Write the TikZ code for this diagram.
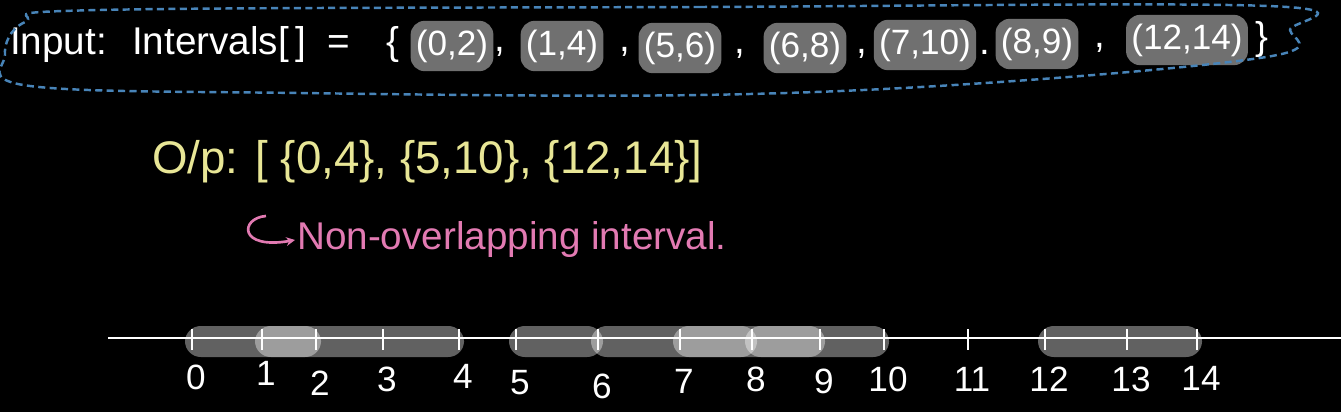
\documentclass[tikz,border=0pt]{standalone}
\usepackage{fontspec}
\setmainfont{Liberation Sans}
\usetikzlibrary{arrows.meta, positioning, calc}

\definecolor{chalkblue}{RGB}{72,132,184}
\definecolor{chalkyellow}{RGB}{232,230,150}
\definecolor{chalkpink}{RGB}{226,122,178}
\definecolor{pillgrey}{RGB}{112,112,112}

\begin{document}
\begin{tikzpicture}[
        x=0.02cm, y=-0.02cm,
        chalk/.style={text=white, font=\fontsize{22}{26}\selectfont, inner sep=1pt},
        pill/.style={text=white, font=\fontsize{20}{24}\selectfont, fill=pillgrey, rounded corners=8pt, inner xsep=3pt, inner ysep=5pt},
        bar/.style={fill=white, fill opacity=0.38, rounded corners=9pt},
        tickmark/.style={white, line width=1pt},
        numlabel/.style={text=white, font=\fontsize{20}{24}\selectfont, inner sep=1pt}
    ]
    
    \fill[black] (0,0) rectangle (1341,412);
    \useasboundingbox (0,0) rectangle (1341,412);
    
    % input line
    \node[chalk, anchor=west] (input) at (8,45) {Input:};
    \node[chalk, anchor=west] (intervals) at (130,45) {Intervals[\,]\ \ =};
    \node[chalk] (open) at (393,45) {\{};
    \node[pill] (in02) at (452,46) {(0,2)};
    \node[chalk] (c1) at (500,52) {,};
    \node[pill] (in14) at (562,46) {(1,4)};
    \node[chalk] (c2) at (625,52) {,};
    \node[pill] (in56) at (680,48) {(5,6)};
    \node[chalk] (c3) at (740,54) {,};
    \node[pill] (in68) at (805,48) {(6,8)};
    \node[chalk] (c4) at (862,54) {,};
    \node[pill] (in710) at (925,45) {(7,10)};
    \node[chalk] (c5) at (985,52) {.};
    \node[pill] (in89) at (1037,44) {(8,9)};
    \node[chalk] (c6) at (1100,48) {,};
    \node[pill] (in1214) at (1187,40) {(12,14)};
    \node[chalk] (close) at (1262,40) {\}};
    
    \draw[chalkblue, line width=1.4pt, dash pattern={on 4pt off 2.5pt}]
        plot[smooth cycle, tension=0.6] coordinates {(100,10) (700,7) (1268,6) (1290,30) (1272,56) (1000,82) (700,95) (300,93) (30,86) (5,55) (25,22)};
    
    % output
    \node[anchor=west, text=chalkyellow, font=\fontsize{26}{30}\selectfont, inner sep=1pt]
        (output) at (150,162) {O/p: [ \{0,4\}, \{5,10\}, \{12,14\}]};
    \node[anchor=west, text=chalkpink, font=\fontsize{22}{26}\selectfont, inner sep=1pt]
        (nonover) at (295,240) {Non-overlapping interval.};
    \coordinate (hook) at (266,216);
    \draw[chalkpink, line width=1.5pt, -{Stealth[length=5pt, width=5pt]}]
        (hook) .. controls (240,218) and (238,250) .. (nonover.west);
    
    % number line
    \foreach \n/\px in {0/192, 1/262, 2/316, 3/383, 4/459, 5/516, 6/598, 7/680,
                        8/752, 9/820, 10/884, 11/968, 12/1045, 13/1127, 14/1197}
        \coordinate (t\n) at (\px,338);
    
    \foreach \a/\b in {0/2, 1/4, 5/6, 6/8, 7/10, 8/9, 12/14}
        \fill[bar] ($(t\a)+(-7,-12)$) rectangle ($(t\b)+(5,19)$);
    
    \coordinate (lstart) at (108,338);
    \coordinate (lend) at (1341,338);
    \draw[white, line width=1.3pt] (lstart) -- (lend);
    
    \foreach \n/\ly in {0/377, 1/373, 2/383, 3/379, 4/376, 5/383, 6/386, 7/381,
                        8/379, 9/381, 10/379, 11/379, 12/379, 13/379, 14/378} {
        \draw[tickmark] ($(t\n)+(0,-9)$) -- ($(t\n)+(0,12)$);
        \node[numlabel] (lbl\n) at ($(t\n|-0,\ly)+(4,0)$) {\n};
    }
    
\end{tikzpicture}
\end{document}
